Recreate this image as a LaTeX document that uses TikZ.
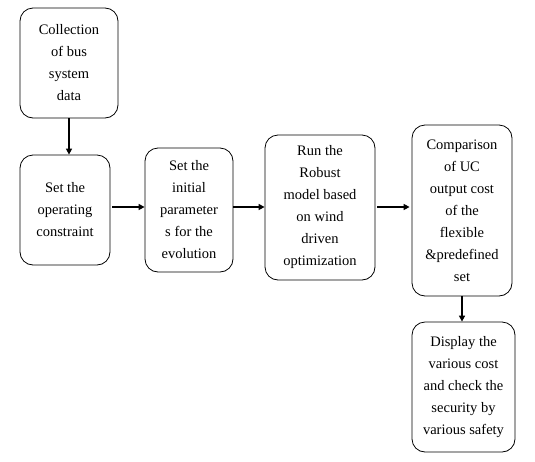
\documentclass[tikz,border=0pt]{standalone}
\usepackage{fontspec}
\setmainfont{Liberation Serif}
\usetikzlibrary{arrows.meta, positioning}

\begin{document}
\begin{tikzpicture}[x=1pt, y=1pt,
    stage/.style={draw, rounded corners=13pt, line width=0.8pt, align=center,
        font=\fontsize{14.5}{22}\selectfont, inner sep=0pt},
    flow/.style={line width=1.8pt, -{Triangle[length=6pt, width=6pt]}}]
    \useasboundingbox (0,0) rectangle (535,-461);

    % Stufen
    \node[stage, minimum width=98, minimum height=110] (collect) at (69,-63)
        {Collection\\of bus\\system\\data};
    \node[stage, minimum width=90, minimum height=110] (constr) at (65,-210)
        {Set the\\operating\\constraint};
    \node[stage, minimum width=88, minimum height=124] (init) at (189,-210)
        {Set the\\initial\\parameter\\s for the\\evolution};
    \node[stage, minimum width=110, minimum height=145] (robust) at (320,-207.5)
        {Run the\\Robust\\model based\\on wind\\driven\\optimization};
    \node[stage, minimum width=100, minimum height=171] (compare) at (462,-210.5)
        {Comparison\\of UC\\output cost\\of the\\flexible\\\&predefined\\set};
    \node[stage, minimum width=103, minimum height=130] (display) at (463.5,-387)
        {Display the\\various cost\\and check the\\security by\\various safety};

    % Pfeile
    \draw[flow] (collect.south) -- (collect.south |- constr.north);
    \draw[flow] ([xshift=2]constr.east |- 0,-207) -- (init.west |- 0,-207);
    \draw[flow] (init.east |- 0,-207) -- (robust.west |- 0,-207);
    \draw[flow] ([xshift=2]robust.east |- 0,-207) -- ([xshift=-2]compare.west |- 0,-207);
    \draw[flow] (compare.south) -- (compare.south |- display.north);
\end{tikzpicture}
\end{document}
